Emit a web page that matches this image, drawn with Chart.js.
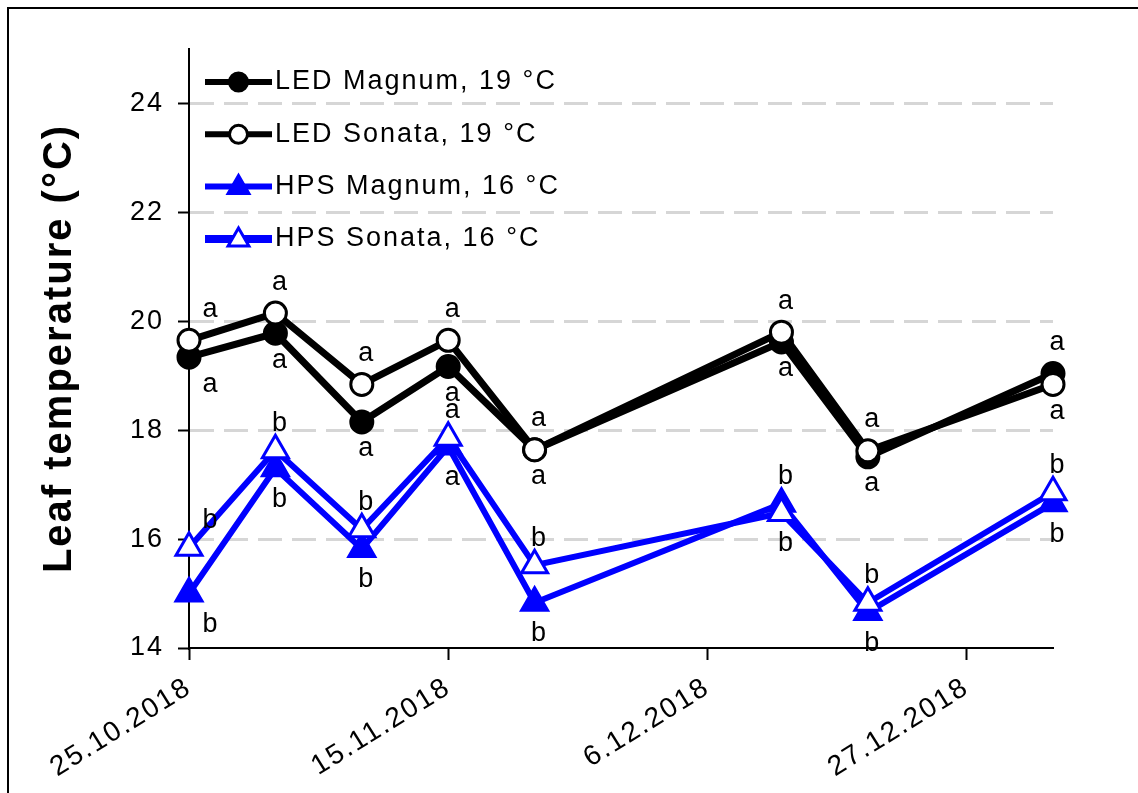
<!DOCTYPE html>
<html><head><meta charset="utf-8">
<script src="https://cdn.jsdelivr.net/npm/chart.js@4.4.1/dist/chart.umd.min.js"></script>
<style>
html,body{margin:0;padding:0;background:#fff;}
#wrap{position:relative;width:1138px;height:793px;overflow:hidden;}
#frame{position:absolute;left:7px;top:7px;right:-10px;bottom:-10px;border-left:2px solid #000;border-top:2px solid #000;pointer-events:none;}
canvas{display:block;}
</style></head><body>
<div id="wrap"><canvas id="c" width="1138" height="793"></canvas><div id="frame"></div></div>
<script>
// ---- data ----
const dates = ['25.10.2018','1.11.2018','8.11.2018','15.11.2018','22.11.2018','12.12.2018','19.12.2018','3.1.2019'];
const ledMagnum = [19.34, 19.78, 18.15, 19.17, 17.64, 19.62, 17.51, 19.04];
const ledSonata = [19.65, 20.15, 18.84, 19.65, 17.64, 19.80, 17.62, 18.84];
const hpsMagnum = [15.00, 17.30, 15.82, 17.70, 14.83, 16.65, 14.66, 16.66];
const hpsSonata = [15.84, 17.63, 16.18, 17.86, 15.52, 16.48, 14.83, 16.86];
const lettersLedMagnum = ['a','a','a','a','a','a','a','a'];
const lettersLedSonata = ['a','a','a','a','a','a','a','a'];
const lettersHpsMagnum = ['b','b','b','a','b','b','b','b'];
const lettersHpsSonata = ['b','b','b','a','b','b','b','b'];
const seriesNames = ['LED Magnum, 19 °C','LED Sonata, 19 °C','HPS Magnum, 16 °C','HPS Sonata, 16 °C'];
const xTickLabels = ['25.10.2018','15.11.2018','6.12.2018','27.12.2018'];
const yTicks = [14, 16, 18, 20, 22, 24];
const yMin = 14, yMax = 25;
const yTitle = 'Leaf temperature (°C)';

// ---- helpers ----
function dayNum(s){ const [d,m,y] = s.split('.').map(Number); return Date.UTC(y, m-1, d)/86400000; }
const day0 = dayNum(dates[0]);
const xs = dates.map(d => dayNum(d) - day0);
const xTickDays = xTickLabels.map(d => dayNum(d) - day0);
const pts = arr => arr.map((v,i) => ({x: xs[i], y: v}));

const FONT = "'Liberation Sans', Arial, sans-serif";
const BLUE = '#0000ff';

const datasets = [
  {label: seriesNames[0], data: pts(ledMagnum), letters: lettersLedMagnum, group: 0,
   borderColor:'#000', borderWidth:7, pointStyle:'circle', pointRadius:11, pointBorderWidth:3,
   pointBackgroundColor:'#000', pointBorderColor:'#000', order:1},
  {label: seriesNames[1], data: pts(ledSonata), letters: lettersLedSonata, group: 0,
   borderColor:'#000', borderWidth:7, pointStyle:'circle', pointRadius:11, pointBorderWidth:3,
   pointBackgroundColor:'#fff', pointBorderColor:'#000', order:0},
  {label: seriesNames[2], data: pts(hpsMagnum), letters: lettersHpsMagnum, group: 1,
   borderColor:BLUE, borderWidth:6, pointStyle:'triangle', pointRadius:15, pointBorderWidth:3,
   pointBackgroundColor:BLUE, pointBorderColor:BLUE, order:3},
  {label: seriesNames[3], data: pts(hpsSonata), letters: lettersHpsSonata, group: 1,
   borderColor:BLUE, borderWidth:6, pointStyle:'triangle', pointRadius:15, pointBorderWidth:3,
   pointBackgroundColor:'#fff', pointBorderColor:BLUE, order:2}
];
datasets.forEach(d => { d.clip = false; d.tension = 0; d.fill = false; d.pointHoverRadius = d.pointRadius; });

function drawMarker(ctx, style, r, x, y, fill, stroke, bw){
  ctx.save();
  ctx.fillStyle = fill; ctx.strokeStyle = stroke; ctx.lineWidth = bw;
  ctx.beginPath();
  if (style === 'circle') ctx.arc(x, y, r, 0, Math.PI*2);
  else {
    let a = 0;
    ctx.moveTo(x + Math.sin(a)*r, y - Math.cos(a)*r); a += 2*Math.PI/3;
    ctx.lineTo(x + Math.sin(a)*r, y - Math.cos(a)*r); a += 2*Math.PI/3;
    ctx.lineTo(x + Math.sin(a)*r, y - Math.cos(a)*r);
  }
  ctx.closePath(); ctx.fill(); ctx.stroke();
  ctx.restore();
}

const spacingPlugin = {
  id: 'spacing',
  beforeUpdate(chart){ chart.ctx.letterSpacing = '2px'; },
  beforeDraw(chart){ chart.ctx.letterSpacing = '2px'; }
};

const lettersPlugin = {
  id: 'letters',
  afterDatasetsDraw(chart){
    const {ctx, scales:{x, y}} = chart;
    ctx.save();
    ctx.font = `27px ${FONT}`; ctx.fillStyle = '#000';
    ctx.textAlign = 'center'; ctx.textBaseline = 'middle';
    const dss = chart.data.datasets;
    dss.forEach((ds, di) => {
      const partner = dss.findIndex((o, oi) => oi !== di && o.group === ds.group);
      const tri = ds.pointStyle === 'triangle';
      ds.data.forEach((p, i) => {
        const other = dss[partner].data[i].y;
        const above = p.y > other || (p.y === other && di > partner);
        const px = x.getPixelForValue(p.x) + (i === 0 ? 22 : 5);
        const py = y.getPixelForValue(p.y) + (above ? (tri ? -27 : -31) : (tri ? 31 : 27));
        ctx.fillText(ds.letters[i], px, py);
      });
    });
    ctx.restore();
  }
};

const legendPlugin = {
  id: 'customLegend',
  afterDraw(chart){
    const {ctx, chartArea} = chart;
    ctx.save();
    ctx.font = `27px ${FONT}`; ctx.textAlign = 'left'; ctx.textBaseline = 'middle'; ctx.fillStyle = '#000';
    chart.data.datasets.forEach((ds, i) => {
      const yy = chartArea.top + 33 + i * 52.3;
      const x0 = chartArea.left + 16, x1 = chartArea.left + 83;
      ctx.strokeStyle = ds.borderColor; ctx.lineWidth = i === 3 ? 8 : 6; ctx.setLineDash([]);
      ctx.beginPath(); ctx.moveTo(x0, yy); ctx.lineTo(x1, yy); ctx.stroke();
      drawMarker(ctx, ds.pointStyle, ds.pointStyle === 'circle' ? 9 : 12, (x0+x1)/2, yy + (ds.pointStyle === 'circle' ? 0 : 1),
                 ds.pointBackgroundColor, ds.pointBorderColor, 3);
      ctx.fillStyle = '#000';
      ctx.fillText(ds.label, x1 + 3, yy);
    });
    ctx.restore();
  }
};

new Chart(document.getElementById('c'), {
  type: 'line',
  data: { datasets },
  options: {
    responsive: false, animation: false, devicePixelRatio: 1,
    layout: { padding: { left: 0, top: 49, right: 85, bottom: 0 } },
    plugins: { legend: { display: false }, tooltip: { enabled: false } },
    scales: {
      x: {
        type: 'linear', min: xs[0], max: xs[xs.length-1],
        afterBuildTicks: s => { s.ticks = xTickDays.map(v => ({value: v})); },
        afterFit: s => { s.height = 793 - 648; },
        ticks: { font: {family: FONT, size: 28}, color: '#000', minRotation: 32, maxRotation: 32, padding: 11,
                 autoSkip: false, callback: (v, i) => xTickLabels[i] },
        grid: { drawOnChartArea: false, tickColor: '#000', tickWidth: 2, tickLength: 12 },
        border: { color: '#000', width: 2 }
      },
      y: {
        min: yMin, max: yMax,
        afterBuildTicks: s => { s.ticks = yTicks.map(v => ({value: v})); },
        afterFit: s => { s.width = 189; },
        ticks: { font: {family: FONT, size: 27}, color: '#000', padding: 14 },
        grid: { color: c => (c.tick && c.tick.value === yMin) ? 'rgba(0,0,0,0)' : '#d6d6d6', lineWidth: 3,
                tickColor: '#000', tickWidth: 2, tickLength: 11, tickBorderDash: [] },
        border: { color: '#000', width: 2, dash: [24, 10] },
        title: { display: true, text: yTitle, color: '#000', font: {family: FONT, size: 40, weight: 'bold'},
                 padding: { top: 36, bottom: 0 } }
      }
    }
  },
  plugins: [spacingPlugin, lettersPlugin, legendPlugin]
});
</script>
</body></html>
